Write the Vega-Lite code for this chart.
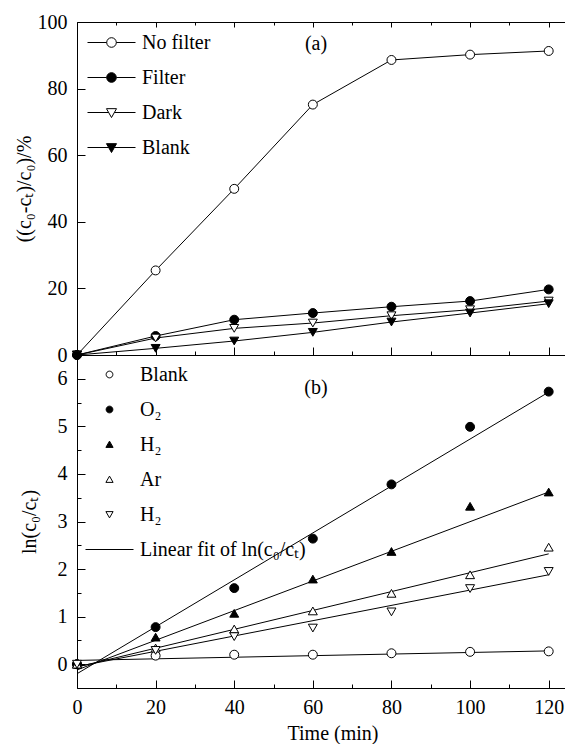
{
  "$schema": "https://vega.github.io/schema/vega-lite/v6.json",
  "background": "white",
  "padding": {"left": 13, "top": 11, "right": 0, "bottom": 0},
  "spacing": 0,
  "bounds": "flush",
  "config": {
    "view": {"stroke": "black", "strokeWidth": 1},
    "font": "Liberation Serif",
    "axis": {"grid": false, "domainColor": "black", "tickColor": "black", "labelColor": "black", "titleColor": "black", "labelFont": "Liberation Serif", "labelFontSize": 20, "titleFont": "Liberation Serif", "titleFontSize": 20, "titleFontWeight": "normal", "domainWidth": 1, "tickWidth": 1, "labelOverlap": false, "labelFlush": false},
    "legend": {"labelFont": "Liberation Serif", "labelFontSize": 20, "labelColor": "black", "padding": 0, "labelLimit": 400}
  },
  "resolve": {"scale": {"shape": "independent", "fill": "independent"}, "legend": {"shape": "independent", "fill": "independent"}},
  "vconcat": [
    {
      "width": 511,
      "height": 333,
      "data": {"values": [
        {"t": 0, "v": 0, "s": "No filter"}, {"t": 20, "v": 25.4, "s": "No filter"}, {"t": 40, "v": 49.9, "s": "No filter"}, {"t": 60, "v": 75.2, "s": "No filter"}, {"t": 80, "v": 88.6, "s": "No filter"}, {"t": 100, "v": 90.2, "s": "No filter"}, {"t": 120, "v": 91.3, "s": "No filter"},
        {"t": 0, "v": 0, "s": "Filter"}, {"t": 20, "v": 5.7, "s": "Filter"}, {"t": 40, "v": 10.6, "s": "Filter"}, {"t": 60, "v": 12.6, "s": "Filter"}, {"t": 80, "v": 14.5, "s": "Filter"}, {"t": 100, "v": 16.2, "s": "Filter"}, {"t": 120, "v": 19.7, "s": "Filter"},
        {"t": 0, "v": 0, "s": "Dark"}, {"t": 20, "v": 5.1, "s": "Dark"}, {"t": 40, "v": 8.0, "s": "Dark"}, {"t": 60, "v": 9.6, "s": "Dark"}, {"t": 80, "v": 11.8, "s": "Dark"}, {"t": 100, "v": 13.6, "s": "Dark"}, {"t": 120, "v": 16.2, "s": "Dark"},
        {"t": 0, "v": 0, "s": "Blank"}, {"t": 20, "v": 2.0, "s": "Blank"}, {"t": 40, "v": 4.2, "s": "Blank"}, {"t": 60, "v": 6.8, "s": "Blank"}, {"t": 80, "v": 9.9, "s": "Blank"}, {"t": 100, "v": 12.6, "s": "Blank"}, {"t": 120, "v": 15.4, "s": "Blank"}
      ]},
      "layer": [
        {
          "mark": {"type": "line", "color": "black", "strokeWidth": 1},
          "encoding": {
            "x": {"field": "t", "type": "quantitative", "scale": {"domain": [0, 130], "nice": false, "zero": false},
                  "axis": {"orient": "bottom", "values": [0, 10, 20, 30, 40, 50, 60, 70, 80, 90, 100, 110, 120], "labels": false, "title": null, "domain": false,
                           "tickSize": {"condition": {"test": "datum.value % 20 === 0", "value": -8}, "value": -4}}},
            "y": {"field": "v", "type": "quantitative", "scale": {"domain": [0, 100], "nice": false, "zero": false},
                  "axis": {"values": [0, 10, 20, 30, 40, 50, 60, 70, 80, 90, 100], "labelExpr": "datum.value % 20 === 0 ? datum.label : ''", "labelPadding": 18, "domain": false,
                           "tickSize": {"condition": {"test": "datum.value % 20 === 0", "value": -8}, "value": -4},
                           "title": "((c₀-cₜ)/c₀)/%", "titlePadding": 3}},
            "detail": {"field": "s"}
          }
        },
        {
          "mark": {"type": "point", "filled": true, "stroke": "black", "strokeWidth": 1, "size": 80, "opacity": 1},
          "encoding": {
            "x": {"field": "t", "type": "quantitative", "scale": {"domain": [0, 130], "nice": false, "zero": false},
                  "axis": {"orient": "top", "values": [0, 10, 20, 30, 40, 50, 60, 70, 80, 90, 100, 110, 120], "labels": false, "title": null, "domain": false,
                           "tickSize": {"condition": {"test": "datum.value % 20 === 0", "value": -5}, "value": -3}}},
            "y": {"field": "v", "type": "quantitative"},
            "shape": {"field": "s", "type": "nominal",
                      "scale": {"domain": ["Blank", "Dark", "Filter", "No filter"], "range": ["triangle-down", "triangle-down", "circle", "circle"]},
                      "legend": null},
            "fill": {"field": "s", "type": "nominal",
                     "scale": {"domain": ["No filter", "Filter", "Dark", "Blank"], "range": ["white", "black", "white", "black"]},
                     "legend": {"title": null, "orient": "none", "legendX": 10, "legendY": -4, "columns": 1, "symbolSize": 2304, "rowPadding": -15.5, "labelOffset": 6, "symbolStrokeColor": "black", "symbolStrokeWidth": 1,
                                "symbolType": {"expr": "(datum.value === 'No filter' || datum.value === 'Filter') ? 'M-0.2,0A0.2,0.2,0,1,1,0.2,0A0.2,0.2,0,1,1,-0.2,0Z M-1,0H-0.2 M0.2,0H1' : 'M-0.21,-0.16L0.21,-0.16L0,0.21Z M-1,0H-0.12 M0.12,0H1'"}}}
          }
        },
        {
          "data": {"values": [{"t": 60.8, "v": 93.4, "label": "(a)"}]},
          "mark": {"type": "text", "font": "Liberation Serif", "fontSize": 20, "color": "black"},
          "encoding": {
            "x": {"field": "t", "type": "quantitative", "axis": null},
            "y": {"field": "v", "type": "quantitative"},
            "text": {"field": "label"}
          }
        }
      ],
      "resolve": {"axis": {"x": "independent"}}
    },
    {
      "width": 511,
      "height": 333,
      "layer": [
        {
          "data": {"values": [{"t": 60.8, "v": 5.81, "label": "(b)"}]},
          "mark": {"type": "text", "font": "Liberation Serif", "fontSize": 20, "color": "black"},
          "encoding": {
            "x": {"field": "t", "type": "quantitative", "scale": {"domain": [0, 130], "nice": false, "zero": false}},
            "y": {"field": "v", "type": "quantitative", "scale": {"domain": [-0.5, 6.5], "nice": false, "zero": false},
                  "axis": {"orient": "left", "values": [-0.5, 0.5, 1.5, 2.5, 3.5, 4.5, 5.5, 6.5], "labels": false, "title": null, "domain": false, "tickSize": -4, "minExtent": 0, "maxExtent": 0}},
            "text": {"field": "label"}
          }
        },
        {
          "data": {"values": [
            {"t": 0, "v": 0.08, "f": "Blank"}, {"t": 120, "v": 0.28, "f": "Blank"},
            {"t": 0, "v": -0.2, "f": "O2"}, {"t": 120, "v": 5.72, "f": "O2"},
            {"t": 0, "v": -0.12, "f": "H2"}, {"t": 120, "v": 3.62, "f": "H2"},
            {"t": 0, "v": -0.06, "f": "Ar"}, {"t": 120, "v": 2.32, "f": "Ar"},
            {"t": 0, "v": -0.05, "f": "H2b"}, {"t": 120, "v": 1.88, "f": "H2b"}
          ]},
          "mark": {"type": "line", "color": "black", "strokeWidth": 1},
          "encoding": {
            "x": {"field": "t", "type": "quantitative",
                  "axis": {"values": [0, 10, 20, 30, 40, 50, 60, 70, 80, 90, 100, 110, 120], "labelExpr": "datum.value % 20 === 0 ? datum.label : ''", "labelPadding": 17, "domain": false,
                           "tickSize": {"condition": {"test": "datum.value % 20 === 0", "value": -8}, "value": -4},
                           "title": "Time (min)", "titlePadding": 2}},
            "y": {"field": "v", "type": "quantitative",
                  "axis": {"orient": "left", "values": [0, 1, 2, 3, 4, 5, 6], "labelPadding": 18, "domain": false, "tickSize": -8,
                           "title": "ln(c₀/cₜ)", "titlePadding": 18}},
            "detail": {"field": "f"}
          }
        },
        {
          "data": {"values": [
            {"t": 0, "v": 0, "s": "Blank"}, {"t": 20, "v": 0.18, "s": "Blank"}, {"t": 40, "v": 0.2, "s": "Blank"}, {"t": 60, "v": 0.2, "s": "Blank"}, {"t": 80, "v": 0.23, "s": "Blank"}, {"t": 100, "v": 0.26, "s": "Blank"}, {"t": 120, "v": 0.27, "s": "Blank"},
            {"t": 0, "v": 0, "s": "O2"}, {"t": 20, "v": 0.78, "s": "O2"}, {"t": 40, "v": 1.6, "s": "O2"}, {"t": 60, "v": 2.64, "s": "O2"}, {"t": 80, "v": 3.78, "s": "O2"}, {"t": 100, "v": 4.99, "s": "O2"}, {"t": 120, "v": 5.73, "s": "O2"},
            {"t": 0, "v": 0, "s": "H2"}, {"t": 20, "v": 0.57, "s": "H2"}, {"t": 40, "v": 1.07, "s": "H2"}, {"t": 60, "v": 1.79, "s": "H2"}, {"t": 80, "v": 2.37, "s": "H2"}, {"t": 100, "v": 3.32, "s": "H2"}, {"t": 120, "v": 3.62, "s": "H2"},
            {"t": 0, "v": 0, "s": "Ar"}, {"t": 20, "v": 0.34, "s": "Ar"}, {"t": 40, "v": 0.74, "s": "Ar"}, {"t": 60, "v": 1.12, "s": "Ar"}, {"t": 80, "v": 1.49, "s": "Ar"}, {"t": 100, "v": 1.88, "s": "Ar"}, {"t": 120, "v": 2.46, "s": "Ar"},
            {"t": 0, "v": 0, "s": "H2b"}, {"t": 20, "v": 0.29, "s": "H2b"}, {"t": 40, "v": 0.58, "s": "H2b"}, {"t": 60, "v": 0.76, "s": "H2b"}, {"t": 80, "v": 1.1, "s": "H2b"}, {"t": 100, "v": 1.59, "s": "H2b"}, {"t": 120, "v": 1.95, "s": "H2b"}
          ]},
          "mark": {"type": "point", "filled": true, "stroke": "black", "strokeWidth": 1, "size": 80, "opacity": 1},
          "encoding": {
            "x": {"field": "t", "type": "quantitative"},
            "y": {"field": "v", "type": "quantitative", "axis": null},
            "shape": {"field": "s", "type": "nominal",
                      "scale": {"domain": ["fit", "H2b", "Ar", "H2", "O2", "Blank"], "range": ["circle", "triangle-down", "triangle-up", "triangle-up", "circle", "circle"]},
                      "legend": null},
            "fill": {"field": "s", "type": "nominal",
                     "scale": {"domain": ["Blank", "O2", "H2", "Ar", "H2b", "fit"], "range": ["white", "black", "black", "white", "white", "black"]},
                     "legend": {"title": null, "orient": "none", "legendX": 8, "legendY": -5, "columns": 1, "symbolSize": 2304, "rowPadding": -14.5, "labelOffset": 6, "symbolStrokeColor": "black", "symbolStrokeWidth": 1,
                                "labelExpr": "datum.value === 'O2' ? 'O₂' : (datum.value === 'H2' || datum.value === 'H2b') ? 'H₂' : datum.value === 'fit' ? 'Linear fit of ln(c₀/cₜ)' : datum.value",
                                "symbolType": {"expr": "(datum.value === 'Blank' || datum.value === 'O2') ? 'M-0.14,0A0.14,0.14,0,1,1,0.14,0A0.14,0.14,0,1,1,-0.14,0Z' : (datum.value === 'H2' || datum.value === 'Ar') ? 'M-0.15,0.12L0.15,0.12L0,-0.14Z' : datum.value === 'H2b' ? 'M-0.15,-0.12L0.15,-0.12L0,0.14Z' : 'M-1,0H1'"}}}
          }
        }
      ],
      "resolve": {"axis": {"y": "independent"}}
    }
  ]
}
